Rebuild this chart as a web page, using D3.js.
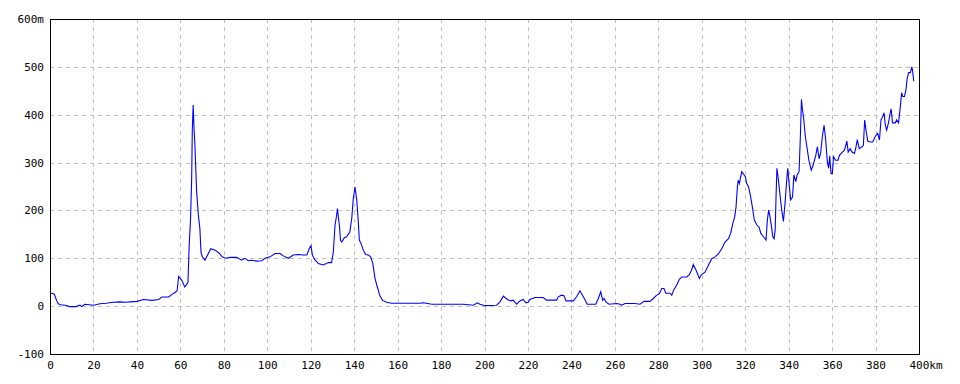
<!DOCTYPE html>
<html><head><meta charset="utf-8">
<script src="https://cdn.jsdelivr.net/npm/d3@7"></script>
<style>
html,body{margin:0;padding:0;background:#fff;}
svg text{font-family:"DejaVu Sans Mono",monospace;font-size:11px;fill:#000;}
</style></head>
<body><svg id="chart" width="960" height="384"></svg>
<script>
const distanceKm = [0,1,2,3,3.8,5,7,9,12,13.8,14.6,16,18,20,21,23,26,28,32,35,37,40,43,47,50,51.6,54.6,56,57.7,58.5,59.2,60.7,62,63,63.5,64.1,64.7,65.2,65.5,65.9,66.3,66.7,67.5,68.3,69,69.5,70.1,71.3,72.9,74,76,78,79.3,80.8,83.1,85.9,88.2,89.7,91.3,92.8,95.1,97.4,99,101.3,103.6,105.9,107.4,109.7,112,114.3,116.6,118.2,119.4,120.1,120.8,121.7,123.5,125.8,128.1,129.6,130.4,131.2,132,132.3,132.7,133.2,133.7,134.3,135.5,136.5,138,138.9,139.6,140.4,141.2,141.9,142.4,143.4,144.2,145.3,146.5,147.6,148.6,149.6,150.6,151.9,153.1,154.9,157.2,159.5,165,170.3,171.8,175.7,184.1,190.3,194.9,196.7,197.9,200.2,205.6,207.1,208.7,210.5,212,213.2,214.8,216.3,217.8,219.1,220.1,220.9,223.2,227,228.6,233.2,233.9,235.5,236.6,237.5,240.9,242.4,243.9,245.5,247.3,251.2,252.4,253.5,254.4,255,255.9,257.3,260.8,262.4,263.1,264.7,269.3,271.6,273.4,276.2,277.7,279,280.5,281.6,282.6,283.5,285.4,286.2,287.2,288.5,289.7,290.8,293.1,294.3,295.3,296.1,297.4,298.9,299.9,301.5,303,304.6,306.1,307.6,309.2,310.7,312.3,313.3,314.3,315.2,315.8,316.4,316.8,317.3,318.4,319.2,320.1,320.7,321.5,322.5,323.5,324.2,325.3,326.4,327.2,328.4,329.6,330.2,330.8,331.4,332.1,332.7,333.3,333.8,334.2,334.6,335.3,336.1,336.8,337.6,338.4,339.1,339.6,340.2,340.9,341.8,342.4,343.3,343.9,344.8,345.4,345.9,346.3,346.9,347.7,348.4,349.3,350.4,351.3,352.5,353.2,354,354.7,355.5,356.3,357,357.8,358.4,358.9,359.5,360.1,360.7,361.6,362.7,363.4,364.7,365.7,366.8,367.4,368.3,369.2,370.3,371,371.6,372.5,373.8,374.4,375,375.6,376.4,377.5,378.7,379.9,381,381.8,382.5,383.3,383.9,384.5,385.1,385.9,386.6,387.2,387.8,389.1,389.7,390.6,391.4,392,392.5,393.3,394,394.5,395.2,396,396.7,397,397.6];
const elevationM = [27,27,25,12,5,3,2,-1,-1,2,-1,4,3,2,3,5,6,7.5,9,8,9,10,14,12,14,19,19,24,29,32,62,54,40,46,50,131,183,264,368,420,371,336,239,190,162,113,103,96,110,120,117,110,103,100,102,102,96,100,95,96,94,95,100,103,110,110,105,100,107,108,107,107,121,126,107,98,89,86,91,91,112,169,192,204,187,169,138,134,143,145,155,183,225,249,222,177,138,128,117,108,107,103,89,58,41,21,12,8,6,6,6,6,7,4,4,4,2,7,4,1,2,9,21,14,11,12.5,4,11,14,7,8,14,18,18,12.5,12.5,19.5,23,22,11,11,19.5,32,19.5,4,4,16,30,12.5,16,9,4,5.6,4,2,5.6,5.6,4,10,10,16,22,26,37,37,27,27,23,35,44,56,61,61,66,75,87,75,58,66,71,85,99,103,109,120,134,141,152,173,187,208,250,263,256,281,276,270,256,250,229,201,180,170,165,152,145,138,180,201,187,166,145,141,159,229,288,263,229,201,177,219,263,288,256,222,228,274,260,274,281,355,432,413,392,354,333,305,284,295,315,333,308,319,354,378,350,302,288,314,277,277,312,305,305,315,322,326,345,322,329,322,319,333,348,329,333,336,389,368,345,343,343,355,361,347,389,396,404,378,368,382,400,412,383,383,389,383,417,446,438,438,452,474,488,488,500,493,470];
const xTicks = [0,20,40,60,80,100,120,140,160,180,200,220,240,260,280,300,320,340,360,380,400];
const yTicks = [-100,0,100,200,300,400,500,600];
const xUnit = "km", yUnit = "m";

const svg = d3.select("#chart");
const L = 50, R = 919, T = 19, B = 354;
const x = d3.scaleLinear().domain([0,400]).range([L,R]);
const y = d3.scaleLinear().domain([-100,600]).range([B,T]);

// grid
const grid = svg.append("g").attr("stroke","#c0c0c0").attr("stroke-dasharray","4,4").attr("shape-rendering","crispEdges");
grid.selectAll("line.v").data(xTicks.slice(1,-1)).join("line")
  .attr("x1",d=>Math.round(x(d))+0.5).attr("x2",d=>Math.round(x(d))+0.5)
  .attr("y1",T).attr("y2",B);
grid.selectAll("line.h").data(yTicks.slice(1,-1)).join("line")
  .attr("y1",d=>Math.round(y(d))+0.5).attr("y2",d=>Math.round(y(d))+0.5)
  .attr("x1",L).attr("x2",R);

// line
const line = d3.line().x((d,i)=>x(distanceKm[i])).y(d=>y(d));
svg.append("path").datum(elevationM).attr("d",line)
  .attr("fill","none").attr("stroke","#0000ff").attr("stroke-width",1.1);

// frame
svg.append("rect").attr("x",L+0.5).attr("y",T+0.5).attr("width",R-L).attr("height",B-T)
  .attr("fill","none").attr("stroke","#000").attr("stroke-width",1).attr("shape-rendering","crispEdges");

// axes via d3
const yAxis = d3.axisLeft(y).tickValues(yTicks).tickSize(0).tickPadding(6)
  .tickFormat(d=> d===600 ? d+yUnit : String(d));
const gy = svg.append("g").attr("transform",`translate(${L},0)`).call(yAxis);
gy.select(".domain").remove();
gy.selectAll("text").style("font-family","'DejaVu Sans Mono',monospace").style("font-size","11px").attr("fill","#000");

const xAxis = d3.axisBottom(x).tickValues(xTicks).tickSize(0).tickPadding(7)
  .tickFormat(d=>String(d));
const gx = svg.append("g").attr("transform",`translate(0,${B})`).call(xAxis);
gx.select(".domain").remove();
gx.selectAll("text").style("font-family","'DejaVu Sans Mono',monospace").style("font-size","11px").attr("fill","#000");
// last label with unit: keep number centered on tick
gx.selectAll("text").filter(d=>d===400).attr("text-anchor","start").attr("x",-10).text("400"+xUnit);
</script></body></html>
